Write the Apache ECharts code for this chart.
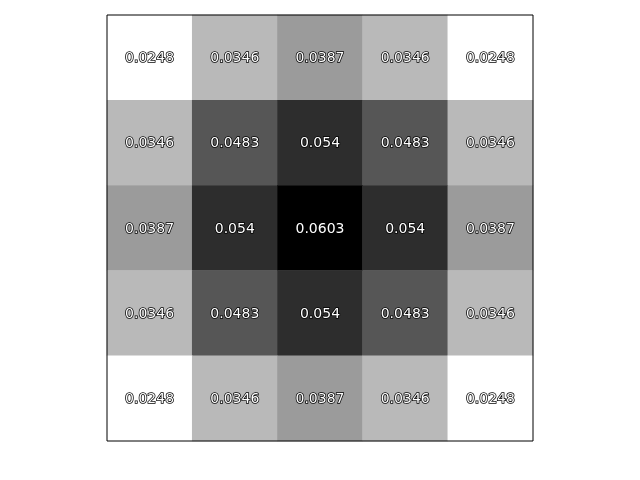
<!DOCTYPE html>
<html><head><meta charset="utf-8">
<script src="https://cdn.jsdelivr.net/npm/echarts@6/dist/echarts.min.js"></script>
<style>html,body{margin:0;padding:0;background:#fff}#c{width:640px;height:480px}</style>
</head><body><div id="c"></div>
<script>
const cols = ['0','1','2','3','4'];
const rows = ['0','1','2','3','4'];
const row0 = [0.0248, 0.0346, 0.0387, 0.0346, 0.0248];
const row1 = [0.0346, 0.0483, 0.054, 0.0483, 0.0346];
const row2 = [0.0387, 0.054, 0.0603, 0.054, 0.0387];
const row3 = [0.0346, 0.0483, 0.054, 0.0483, 0.0346];
const row4 = [0.0248, 0.0346, 0.0387, 0.0346, 0.0248];
const matrix = [row0, row1, row2, row3, row4];

const data = [];
matrix.forEach((r, i) => r.forEach((v, j) => data.push([j, i, v])));
const flat = matrix.flat();
const vmin = Math.min(...flat), vmax = Math.max(...flat);

const chart = echarts.init(document.getElementById('c'), null, {renderer: 'canvas'});
chart.setOption({
  animation: false,
  grid: {left: 107, top: 15, width: 426, height: 426, show: true, borderColor: '#000', borderWidth: 1, backgroundColor: 'transparent', z: 10},
  xAxis: {type: 'category', data: cols, axisLine: {show: false}, axisTick: {show: false}, axisLabel: {show: false}, splitLine: {show: false}},
  yAxis: {type: 'category', data: rows, inverse: true, axisLine: {show: false}, axisTick: {show: false}, axisLabel: {show: false}, splitLine: {show: false}},
  visualMap: {show: false, min: vmin, max: vmax, calculable: false, inRange: {color: ['#ffffff', '#000000']}},
  series: [{
    type: 'heatmap',
    data: data,
    itemStyle: {borderWidth: 0},
    label: {
      show: true,
      formatter: p => String(p.value[2]),
      color: '#fff',
      fontFamily: 'DejaVu Sans',
      fontSize: 14,
      offset: [0, 1],
      textBorderColor: '#000',
      textBorderWidth: 1.5
    },
    emphasis: {disabled: true}
  }]
});
</script></body></html>
